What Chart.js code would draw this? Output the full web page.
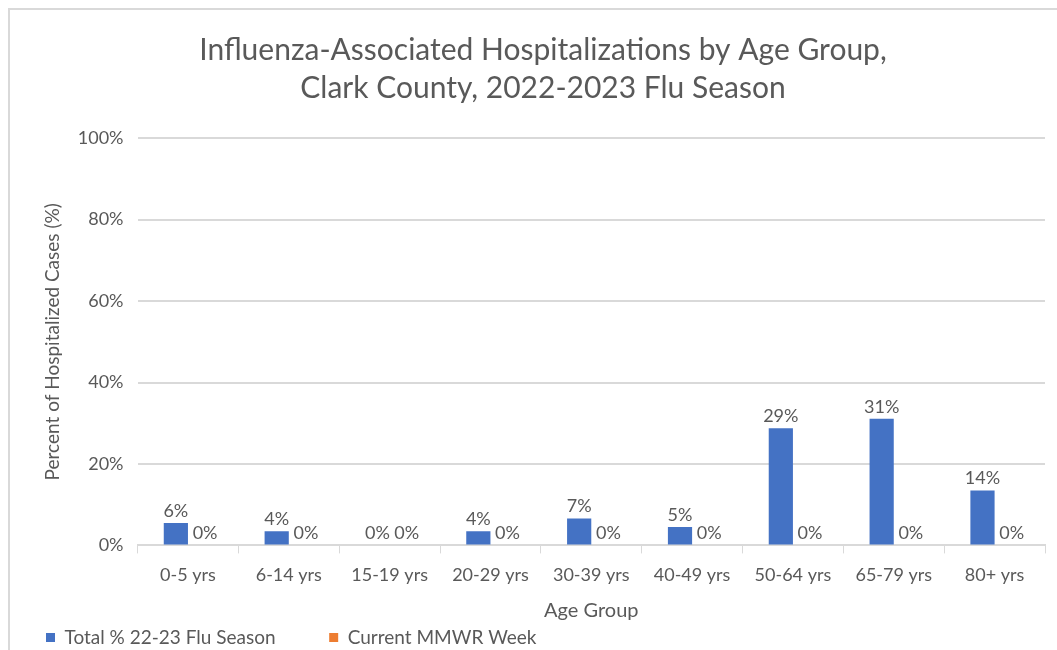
<!DOCTYPE html>
<html>
<head>
<meta charset="utf-8">
<script src="https://cdn.jsdelivr.net/npm/chart.js@4/dist/chart.umd.min.js"></script>
<style>
  body { margin: 0; background: #fff; }
  #wrap { position: absolute; left: 8px; top: 8px; width: 1049px; height: 642px;
          border-left: 2px solid #d9d9d9; border-top: 2px solid #d9d9d9; box-sizing: border-box; }
</style>
</head>
<body>
<div id="wrap"><canvas id="fluChart" width="1047" height="640"></canvas></div>
<script>
const ageGroups = ["0-5 yrs", "6-14 yrs", "15-19 yrs", "20-29 yrs", "30-39 yrs", "40-49 yrs", "50-64 yrs", "65-79 yrs", "80+ yrs"];
const seasonTotal = [5.5, 3.5, 0, 3.5, 6.6, 4.5, 28.8, 31.1, 13.5];
const currentWeek = [0, 0, 0, 0, 0, 0, 0, 0, 0];
const yTicks = [0, 20, 40, 60, 80, 100];

const textGray = '#595959';
const font = 'Lato';

// draws the percentage labels over each bar
const barLabels = {
  id: 'barLabels',
  afterDatasetsDraw(chart) {
    const ctx = chart.ctx;
    ctx.save();
    ctx.fillStyle = textGray;
    ctx.font = '18px ' + font;
    ctx.textAlign = 'center';
    ctx.textBaseline = 'bottom';
    chart.data.datasets.forEach((ds, i) => {
      chart.getDatasetMeta(i).data.forEach((bar, j) => {
        const dx = i === 1 ? 5 : 0;
        ctx.fillText(Math.round(ds.data[j]) + '%', bar.x + dx, bar.y - 3);
      });
    });
    ctx.restore();
  }
};

let fluChart = new Chart(document.getElementById('fluChart').getContext('2d'), {
  type: 'bar',
  data: {
    labels: ageGroups,
    datasets: [{
      label: 'Total % 22-23 Flu Season',
      data: seasonTotal,
      backgroundColor: '#4472C4'
    }, {
      label: 'Current MMWR Week',
      data: currentWeek,
      backgroundColor: '#ED7D31'
    }]
  },
  options: {
    responsive: false,
    animation: false,
    layout: { padding: { left: 31, right: 12, top: 10, bottom: -7 } },
    datasets: { bar: { categoryPercentage: 0.48, barPercentage: 1 } },
    scales: {
      x: {
        grid: { display: true, drawOnChartArea: false, color: '#d9d9d9', tickLength: 8 },
        border: { color: '#d9d9d9', width: 2 },
        ticks: { color: textGray, font: { family: font, size: 18 }, padding: 11, maxRotation: 0 },
        title: { display: true, text: 'Age Group', color: textGray, font: { family: font, size: 20 }, padding: { top: 2, bottom: 0 } }
      },
      y: {
        min: 0,
        max: 100,
        afterBuildTicks: axis => { axis.ticks = yTicks.map(v => ({ value: v })); },
        grid: { color: '#d9d9d9', lineWidth: 2, drawTicks: false },
        border: { display: false },
        ticks: { color: textGray, font: { family: font, size: 18 }, padding: 14, callback: v => v + '%' },
        title: { display: true, text: 'Percent of Hospitalized Cases (%)', color: textGray, font: { family: font, size: 19 }, padding: { top: 0, bottom: 0 } }
      }
    },
    plugins: {
      title: {
        display: true,
        text: ['Influenza-Associated Hospitalizations by Age Group,', 'Clark County, 2022-2023 Flu Season'],
        color: textGray,
        font: { family: font, size: 30, weight: 'normal', lineHeight: 1.27 },
        padding: { top: 11, bottom: 31 }
      },
      legend: {
        position: 'bottom',
        align: 'start',
        labels: {
          color: textGray, font: { family: font, size: 19 }, usePointStyle: true, pointStyle: 'rect',
          boxWidth: 9, boxHeight: 9, padding: 5,
          // wider gap between the two legend entries, as in the original
          generateLabels: chart => Chart.defaults.plugins.legend.labels.generateLabels(chart)
            .map((item, i) => Object.assign(item, { text: i === 0 ? item.text + '\u00a0'.repeat(10) : item.text }))
        }
      },
      tooltip: { enabled: false }
    }
  },
  plugins: [barLabels]
});
</script>
</body>
</html>
